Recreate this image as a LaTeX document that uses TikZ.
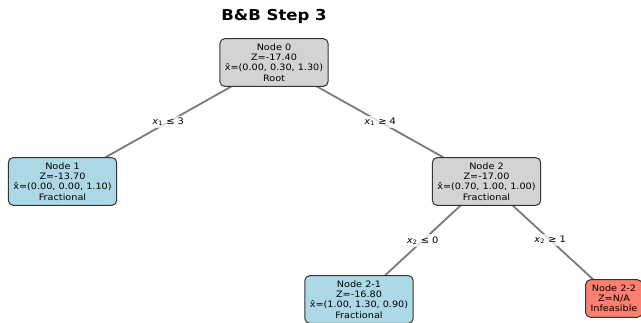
\documentclass[tikz,border=0pt]{standalone}
\usepackage{fontspec}
\setmainfont{DejaVu Sans}[FakeStretch=1.1]
\usetikzlibrary{positioning}
\usetikzlibrary{backgrounds}

\definecolor{boxgray}{HTML}{D3D3D3}
\definecolor{boxblue}{HTML}{ADD8E6}
\definecolor{boxred}{HTML}{FA8072}
\definecolor{edgegray}{HTML}{7A7A7A}

\begin{document}
\begin{tikzpicture}[x=1pt, y=-1pt,
    bbnode/.style={draw=black!80, line width=1pt, rounded corners=5pt, align=center,
      inner xsep=5pt, inner ysep=5.2pt, font=\fontsize{8.8}{10.2}\selectfont},
    branch/.style={draw=edgegray, line width=1.8pt},
    cut/.style={fill=white, fill opacity=0.75, text opacity=1, inner sep=2pt,
      font=\fontsize{9}{10}\selectfont}]
    \useasboundingbox (0, 0) rectangle (641, 323);

    \node [font=\bfseries\fontsize{15}{17}\selectfont] (title) at (274, 16) {B\&B Step 3};

    \node [bbnode, fill=boxgray] (n0) at (274, 62.5) {Node 0\\Z=-17.40\\x̂=(0.00, 0.30, 1.30)\\Root};
    \node [bbnode, fill=boxblue] (n1) at (62.5, 181.5) {Node 1\\Z=-13.70\\x̂=(0.00, 0.00, 1.10)\\Fractional};
    \node [bbnode, fill=boxgray] (n2) at (486.5, 181.5) {Node 2\\Z=-17.00\\x̂=(0.70, 1.00, 1.00)\\Fractional};
    \node [bbnode, fill=boxblue] (n21) at (359, 299.5) {Node 2-1\\Z=-16.80\\x̂=(1.00, 1.30, 0.90)\\Fractional};
    \node [bbnode, fill=boxred] (n22) at (614, 298.5) {Node 2-2\\Z=N/A\\Infeasible};

    \begin{scope}[on background layer]
      \draw [branch] (n0.center) -- node [cut] {\textit{x}\textsubscript{1} ≤ 3} (n1.center);
      \draw [branch] (n0.center) -- node [cut] {\textit{x}\textsubscript{1} ≥ 4} (n2.center);
      \draw [branch] (n2.center) -- node [cut] {\textit{x}\textsubscript{2} ≤ 0} (n21.center);
      \draw [branch] (n2.center) -- node [cut] {\textit{x}\textsubscript{2} ≥ 1} (n22.center);
    \end{scope}
\end{tikzpicture}
\end{document}
